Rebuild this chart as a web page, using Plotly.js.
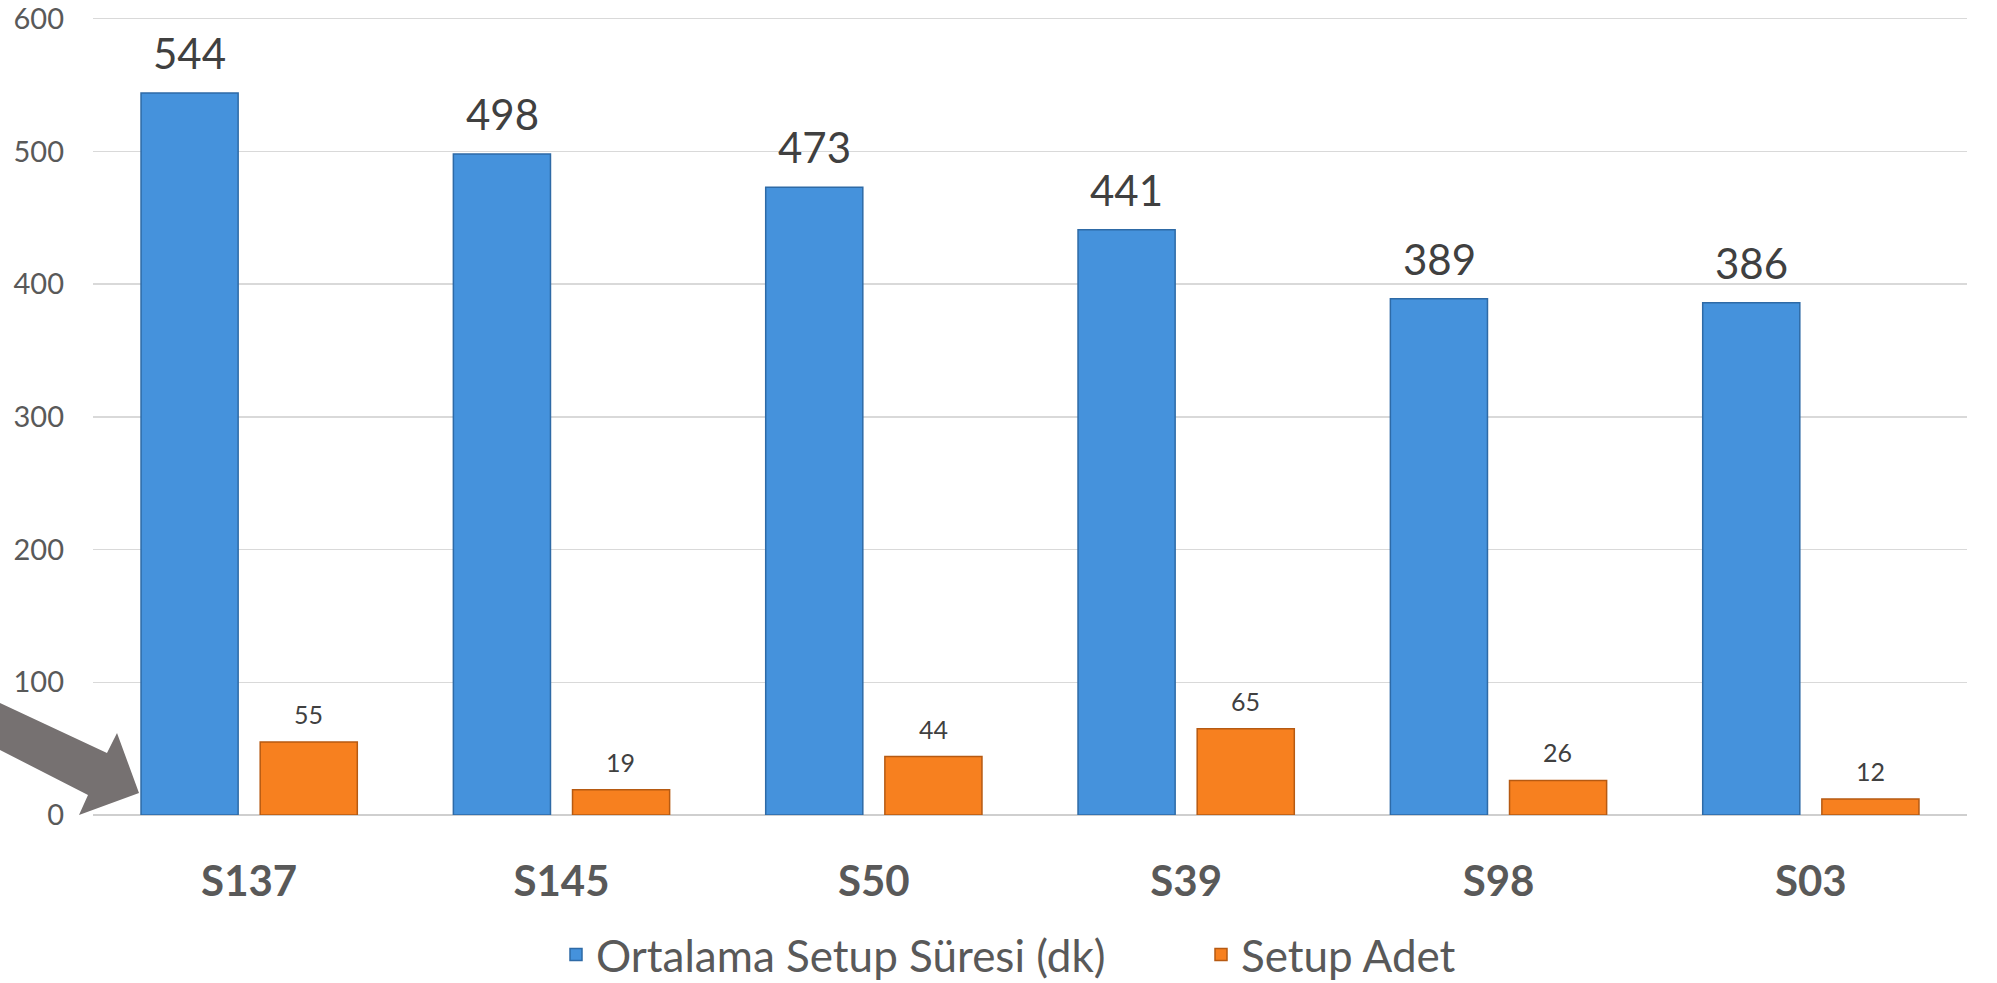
<!DOCTYPE html>
<html>
<head>
<meta charset="utf-8">
<script src="https://cdn.plot.ly/plotly-3.0.1.min.js"></script>
<style>html,body{margin:0;padding:0;background:#fff;}#chart{width:1997px;height:983px;}</style>
</head>
<body>
<div id="chart"></div>
<script>
const categories = ["S137", "S145", "S50", "S39", "S98", "S03"];
const ortalamaSure = [544, 498, 473, 441, 389, 386];
const setupAdet = [55, 19, 44, 65, 26, 12];
const seriesNames = ["Ortalama Setup Süresi (dk)", "Setup Adet"];
const yTicks = [0, 100, 200, 300, 400, 500, 600];
const yMax = 605;

const W = 1997, H = 983;
const M = {l: 93, r: 30, t: 12, b: 168, autoexpand: false};
const plotW = W - M.l - M.r, plotH = H - M.t - M.b;
const px = x => (x - M.l) / plotW;
const py = y => (H - M.b - y) / plotH;

// decorative arrow (pixel outline -> paper coords)
const arrowPts = [[0,703],[107,753],[117,733],[139,793],[79,815],[88,795],[0,750]];
const arrowPath = "M " + arrowPts.map(p => px(p[0]).toFixed(5) + "," + py(p[1]).toFixed(5)).join(" L ") + " Z";

const FONT = "Lato, 'Open Sans', sans-serif";

const traces = [
  {type: "bar", name: seriesNames[0], x: categories, y: ortalamaSure,
   marker: {color: "#4592dc", line: {color: "#2e6aa6", width: 1.5}}, hoverinfo: "x+y"},
  {type: "bar", name: seriesNames[1], x: categories, y: setupAdet,
   marker: {color: "#f7801f", line: {color: "#b65a12", width: 1.5}}, hoverinfo: "x+y"}
];

const off = 0.19;
const annotations = [];
categories.forEach((c, i) => {
  annotations.push({x: i - off, y: ortalamaSure[i], xref: "x", yref: "y", text: String(ortalamaSure[i]),
    showarrow: false, yanchor: "middle", yshift: 40, font: {family: FONT, size: 42, color: "#404040"}});
  annotations.push({x: i + off, y: setupAdet[i], xref: "x", yref: "y", text: String(setupAdet[i]),
    showarrow: false, yanchor: "middle", yshift: 28, font: {family: FONT, size: 25, color: "#404040"}});
});

const layout = {
  width: W, height: H,
  margin: M,
  paper_bgcolor: "#ffffff", plot_bgcolor: "#ffffff",
  font: {family: FONT, color: "#595959"},
  barmode: "group", bargap: 0.237, bargroupgap: 0.185,
  showlegend: true,
  legend: {orientation: "h", x: px(556), xanchor: "left", y: py(955), yanchor: "middle",
           font: {family: FONT, size: 44, color: "#595959"}, itemwidth: 30, entrywidth: 600,
           traceorder: "normal"},
  xaxis: {type: "category", showgrid: false, showline: false, zeroline: false, ticks: "", automargin: false,
          tickfont: {family: FONT, size: 42, color: "#595959", weight: "bold"}, ticklabelstandoff: 38},
  yaxis: {range: [0, yMax], tickvals: yTicks, ticktext: yTicks.map(String), showgrid: true, automargin: false,
          gridcolor: "#d9d9d9", gridwidth: 1.5, zeroline: true, zerolinecolor: "#cfcfcf", zerolinewidth: 2,
          showline: false, ticks: "", ticklabeloverflow: "allow",
          tickfont: {family: FONT, size: 29, color: "#595959"}, ticklabelstandoff: 28},
  annotations: annotations,
  shapes: [{type: "path", xref: "paper", yref: "paper", path: arrowPath,
            fillcolor: "#767171", line: {width: 0}, layer: "above"}]
};

Plotly.newPlot("chart", traces, layout, {displayModeBar: false, staticPlot: true});
</script>
</body>
</html>
